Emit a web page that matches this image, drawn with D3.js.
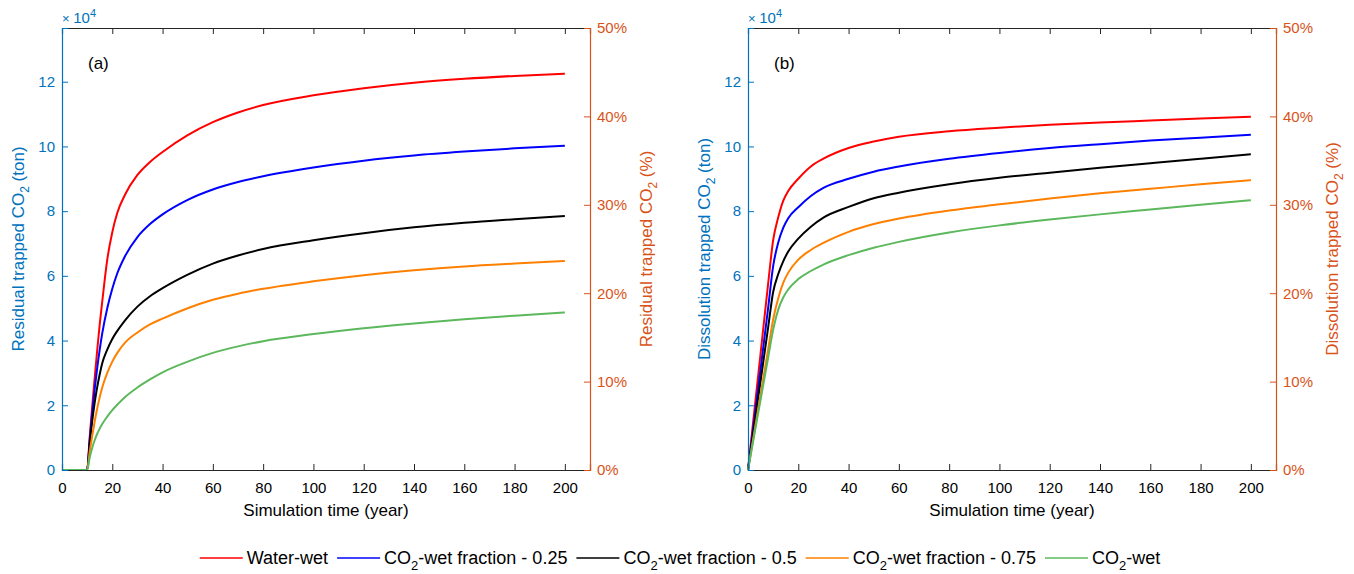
<!DOCTYPE html>
<html><head><meta charset="utf-8">
<script src="https://cdn.jsdelivr.net/npm/d3@7"></script>
<style>
html,body{margin:0;padding:0;background:#fff;}
svg{display:block;font-family:"Liberation Sans",Arial,Helvetica,sans-serif;}
</style></head>
<body>
<svg id="chart" width="1354" height="574"></svg>
<script>
// ---------- data (values in units of 1e4 ton) ----------
const timeA = [0, 10, 11, 12, 13, 14, 15, 16, 18, 20, 22, 25, 30, 35, 40, 50, 60, 70, 80, 100, 120, 140, 160, 180, 200];
const resWaterWet = [0, 0, 1.0, 1.95, 2.85, 3.7, 4.5, 5.2, 6.5, 7.35, 7.95, 8.5, 9.12, 9.52, 9.83, 10.35, 10.75, 11.05, 11.28, 11.58, 11.8, 11.97, 12.09, 12.18, 12.25];
const resFrac025 = [0, 0, 0.9, 1.75, 2.5, 3.15, 3.72, 4.22, 5.0, 5.6, 6.08, 6.6, 7.2, 7.6, 7.9, 8.35, 8.67, 8.9, 9.08, 9.35, 9.56, 9.72, 9.84, 9.94, 10.02];
const resFrac05 = [0, 0, 0.8, 1.5, 2.08, 2.56, 2.96, 3.3, 3.72, 4.05, 4.3, 4.62, 5.05, 5.37, 5.62, 6.04, 6.38, 6.63, 6.83, 7.1, 7.32, 7.5, 7.64, 7.75, 7.85];
const resFrac075 = [0, 0, 0.55, 1.05, 1.5, 1.9, 2.25, 2.55, 3.0, 3.35, 3.62, 3.93, 4.25, 4.5, 4.68, 5.0, 5.26, 5.45, 5.6, 5.83, 6.02, 6.17, 6.29, 6.38, 6.46];
const resCO2Wet = [0, 0, 0.38, 0.68, 0.92, 1.12, 1.28, 1.42, 1.65, 1.85, 2.02, 2.25, 2.55, 2.8, 3.02, 3.35, 3.62, 3.82, 3.98, 4.2, 4.38, 4.53, 4.66, 4.77, 4.87];

const timeB = [0, 2, 5, 8, 10, 12, 14, 16, 20, 25, 30, 40, 50, 60, 80, 100, 120, 140, 160, 180, 200];
const disWaterWet = [0, 1.45, 3.6, 5.75, 7.1, 7.8, 8.32, 8.62, 9.0, 9.38, 9.62, 9.95, 10.15, 10.3, 10.47, 10.58, 10.67, 10.74, 10.8, 10.86, 10.92];
const disFrac025 = [0, 1.25, 3.12, 5.0, 6.3, 7.02, 7.48, 7.78, 8.12, 8.47, 8.72, 9.0, 9.22, 9.38, 9.62, 9.8, 9.95, 10.07, 10.18, 10.27, 10.36];
const disFrac05 = [0, 1.1, 2.75, 4.4, 5.5, 6.05, 6.45, 6.75, 7.15, 7.52, 7.8, 8.13, 8.4, 8.57, 8.83, 9.03, 9.19, 9.34, 9.48, 9.62, 9.76];
const disFrac075 = [0, 0.93, 2.33, 3.72, 4.65, 5.3, 5.78, 6.1, 6.5, 6.8, 7.02, 7.36, 7.6, 7.77, 8.02, 8.21, 8.39, 8.55, 8.69, 8.83, 8.96];
const disCO2Wet = [0, 0.87, 2.17, 3.47, 4.33, 4.95, 5.33, 5.58, 5.9, 6.15, 6.35, 6.64, 6.87, 7.05, 7.34, 7.56, 7.74, 7.9, 8.05, 8.2, 8.34];

const seriesNames = ["Water-wet", "CO2-wet fraction - 0.25", "CO2-wet fraction - 0.5", "CO2-wet fraction - 0.75", "CO2-wet"];
const seriesColors = ["#ff0000", "#0000ff", "#000000", "#ff8000", "#5cb85c"];
const xTicks = [0, 20, 40, 60, 80, 100, 120, 140, 160, 180, 200];
const yTicks = [0, 2, 4, 6, 8, 10, 12];
const pctTicks = [0, 10, 20, 30, 40, 50];

// ---------- drawing ----------
const svg = d3.select("#chart");
const BLUE = "#0072bd", ORANGE = "#d95319", FRAME = "#262626";

function addSubText(sel, before, sub, after, subSize, shift) {
  sel.text(null);
  sel.append("tspan").text(before);
  sel.append("tspan").attr("dy", shift).attr("font-size", subSize).text(sub);
  sel.append("tspan").attr("dy", -shift).text(after);
}

function drawPanel(cfg) {
  const g = svg.append("g");
  const x = d3.scaleLinear().domain([0, 210]).range([cfg.left, cfg.right]);
  const y = d3.scaleLinear().domain([0, 13.66]).range([cfg.bottom, cfg.top]);
  const yp = d3.scaleLinear().domain([0, 50]).range([cfg.bottom, cfg.top]);

  const line = d3.line().x(d => x(d[0])).y(d => y(d[1])).curve(d3.curveMonotoneX);
  cfg.series.forEach((s, i) => {
    g.append("path").datum(cfg.time.map((t, k) => [t, s[k]]))
      .attr("d", line).attr("fill", "none")
      .attr("stroke", seriesColors[i]).attr("stroke-width", 2);
  });

  const xb = d3.axisBottom(x).tickValues(xTicks).tickSize(-6).tickPadding(12);
  const gb = g.append("g").attr("transform", `translate(0,${cfg.bottom})`).call(xb);
  gb.select(".domain").attr("stroke", FRAME).attr("stroke-width", 1.2);
  gb.selectAll(".tick line").attr("stroke", FRAME);
  gb.selectAll(".tick text").attr("fill", "#000").attr("font-size", 15).attr("font-family", null);
  const xt = d3.axisTop(x).tickValues(xTicks).tickSize(-6).tickFormat("");
  const gt = g.append("g").attr("transform", `translate(0,${cfg.top})`).call(xt);
  gt.select(".domain").attr("stroke", FRAME).attr("stroke-width", 1.2);
  gt.selectAll(".tick line").attr("stroke", FRAME);

  const yl = d3.axisLeft(y).tickValues(yTicks).tickSize(-6).tickPadding(7).tickFormat(d3.format("d"));
  const gl = g.append("g").attr("transform", `translate(${cfg.left},0)`).call(yl);
  gl.select(".domain").attr("stroke", BLUE).attr("stroke-width", 1.2);
  gl.selectAll(".tick line").attr("stroke", BLUE);
  gl.selectAll(".tick text").attr("fill", BLUE).attr("font-size", 15).attr("font-family", null);

  const yr = d3.axisRight(yp).tickValues(pctTicks).tickSize(-6).tickPadding(7).tickFormat(d => d + "%");
  const gr = g.append("g").attr("transform", `translate(${cfg.right},0)`).call(yr);
  gr.select(".domain").attr("stroke", ORANGE).attr("stroke-width", 1.2);
  gr.selectAll(".tick line").attr("stroke", ORANGE);
  gr.selectAll(".tick text").attr("fill", ORANGE).attr("font-size", 15).attr("font-family", null);

  const ex = g.append("text").attr("x", cfg.left).attr("y", 23).attr("fill", BLUE).attr("font-size", 15);
  ex.append("tspan").attr("font-size", 13).text("\u00d7 ");
  ex.append("tspan").text("10");
  ex.append("tspan").attr("dy", -6).attr("font-size", 11).text("4");

  g.append("text").attr("x", cfg.left + 26).attr("y", 69).attr("font-size", 17).attr("fill", "#000").text(cfg.label);

  g.append("text").attr("x", (cfg.left + cfg.right) / 2).attr("y", 516)
    .attr("text-anchor", "middle").attr("font-size", 17).attr("fill", "#000").text("Simulation time (year)");

  const lt = g.append("text").attr("transform", `translate(${cfg.left - 38},${(cfg.top + cfg.bottom) / 2}) rotate(-90)`)
    .attr("text-anchor", "middle").attr("font-size", 17).attr("fill", BLUE);
  addSubText(lt, cfg.title + " trapped CO", "2", " (ton)", 12, 5);

  const rt = g.append("text").attr("transform", `translate(${cfg.right + 62},${(cfg.top + cfg.bottom) / 2}) rotate(-90)`)
    .attr("text-anchor", "middle").attr("font-size", 17).attr("fill", ORANGE);
  addSubText(rt, cfg.title + " trapped CO", "2", " (%)", 12, 5);
}

drawPanel({left: 62, right: 590, top: 28, bottom: 470, label: "(a)", title: "Residual",
  time: timeA, series: [resWaterWet, resFrac025, resFrac05, resFrac075, resCO2Wet]});
drawPanel({left: 748, right: 1276, top: 28, bottom: 470, label: "(b)", title: "Dissolution",
  time: timeB, series: [disWaterWet, disFrac025, disFrac05, disFrac075, disCO2Wet]});

// legend
const lg = svg.append("g");
const items = [];
seriesNames.forEach((name, i) => {
  const it = lg.append("g");
  it.append("line").attr("x1", 0).attr("x2", 43).attr("y1", 0).attr("y2", 0)
    .attr("stroke", seriesColors[i]).attr("stroke-width", 1.6);
  const t = it.append("text").attr("x", 47).attr("y", 6).attr("font-size", 18).attr("fill", "#000");
  if (name.startsWith("CO2")) addSubText(t, "CO", "2", name.slice(3), 13, 6);
  else t.text(name);
  items.push({g: it, w: 47 + t.node().getComputedTextLength()});
});
const gap = 9;
const total = d3.sum(items, d => d.w) + gap * (items.length - 1);
let cx = 680 - total / 2;
items.forEach(d => { d.g.attr("transform", `translate(${cx},558)`); cx += d.w + gap; });
</script>
</body></html>
